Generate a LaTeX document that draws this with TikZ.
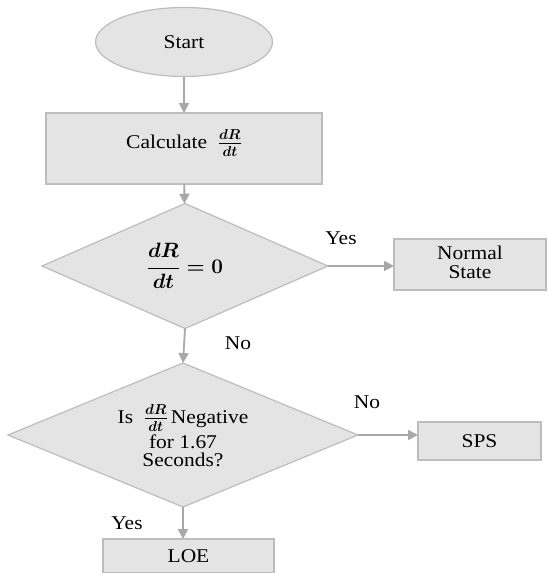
\documentclass[tikz,border=0pt]{standalone}
\usepackage{amsmath}
\usepackage{fontspec}
\setmainfont[FakeStretch=1.1]{Liberation Serif}
\usetikzlibrary{shapes.geometric,arrows.meta}
\definecolor{boxfill}{HTML}{E5E4E5}
\definecolor{boxline}{HTML}{BDBDBD}
\definecolor{arrowc}{HTML}{A8A8A8}
\begin{document}
\begin{tikzpicture}[x=1pt,y=-1pt,
  every node/.style={font=\fontsize{19.5}{22}\selectfont, inner sep=0pt, outer sep=0pt},
  shp/.style={draw=boxline, fill=boxfill, line width=1.2pt},
  boxnode/.style={shp, rectangle, minimum width=#1},
  flow/.style={draw=arrowc, line width=1.8pt, -{Triangle[length=10pt,width=10pt]}},
  lbl/.style={}]
\useasboundingbox (0,0) rectangle (547,573);
\node[shp, ellipse, minimum width=177pt, minimum height=69pt] (start) at (184,42) {Start};
\node[boxnode=276pt, minimum height=71pt] (calc) at (184,148.5) {};
\node (calctext) at (184,143) {Calculate\; $\boldsymbol{\frac{dR}{dt}}$};
\node[shp, diamond, minimum width=286pt, minimum height=125pt] (d1) at (185,266) {$\boldsymbol{\dfrac{dR}{dt}=0}$};
\node[boxnode=152pt, minimum height=51pt] (normal) at (470,264.5) {\begin{tabular}{@{}c@{}}Normal\\[-3pt]State\end{tabular}};
\node[shp, diamond, minimum width=350pt, minimum height=144pt] (d2) at (183,435) {};
\node (d2text) at (183,439) {\begin{tabular}{@{}c@{}}Is\; $\boldsymbol{\frac{dR}{dt}}$\,Negative\\[3pt]for 1.67\\[-4pt]Seconds?\end{tabular}};
\node[boxnode=123pt, minimum height=38pt] (sps) at (479.5,441) {SPS};
\node[boxnode=171pt, minimum height=34pt] (loe) at (188.5,556) {LOE};
\path[flow] (start) -- (calc);
\path[flow] (calc) -- (d1);
\path[flow] (d1.east) -- (normal.west |- d1.east);
\path[flow] (d1.south) -- (d2.north);
\path[flow] (d2.east) -- (sps.west |- d2.east);
\path[flow] (d2.south) -- (d2.south |- loe.north);
\node[lbl] (yes1) at (341,238) {Yes};
\node[lbl] (no1) at (238,343) {No};
\node[lbl] (no2) at (367,402) {No};
\node[lbl] (yes2) at (127,523) {Yes};
\end{tikzpicture}
\end{document}
